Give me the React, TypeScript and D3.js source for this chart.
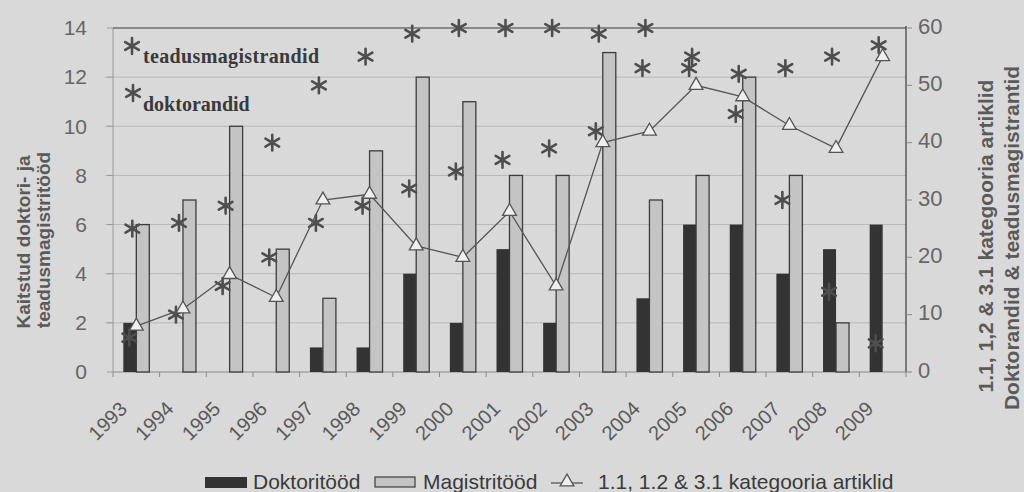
import React from 'react';
import * as d3 from 'd3';

// Kaitstud tööd ja publikatsioonid aastate kaupa
const years = ['1993', '1994', '1995', '1996', '1997', '1998', '1999', '2000', '2001', '2002', '2003', '2004', '2005', '2006', '2007', '2008', '2009'];
const doktoritood = [2, 0, 0, 0, 1, 1, 4, 2, 5, 2, 0, 3, 6, 6, 4, 5, 6];
const magistritood = [6, 7, 10, 5, 3, 9, 12, 11, 8, 8, 13, 7, 8, 12, 8, 2, 0];
const artiklid = [8, 11, 17, 13, 30, 31, 22, 20, 28, 15, 40, 42, 50, 48, 43, 39, 55];
const teadusmagistrandid = [25, 26, 29, 40, 50, 55, 59, 60, 60, 60, 59, 60, 55, 52, 53, 55, 57];
const doktorandid = [6, 10, 15, 20, 26, 29, 32, 35, 37, 39, 42, 53, 53, 45, 30, 14, 5];
const leftTicks = [0, 2, 4, 6, 8, 10, 12, 14];
const rightTicks = [0, 10, 20, 30, 40, 50, 60];

const W = 1024;
const H = 492;
const plot = { left: 113, right: 906, top: 28, bottom: 372 };

const SANS = "'Liberation Sans', Arial, sans-serif";
const SERIF = "'Liberation Serif', 'Times New Roman', serif";

const BG = '#d9d9d9';
const DARK = '#333333';
const LIGHT = '#c4c4c4';
const TEXT = '#5a5a5a';
const GRID = '#b8b8b8';

export default function App() {
  const x = d3.scaleBand<string>().domain(years).range([plot.left, plot.right]);
  const yL = d3.scaleLinear().domain([0, 14]).range([plot.bottom, plot.top]);
  const yR = d3.scaleLinear().domain([0, 60]).range([plot.bottom, plot.top]);
  const cx = (yr: string) => (x(yr) as number) + x.bandwidth() / 2;
  const barW = 13;

  const star = d3.symbol(d3.symbolAsterisk, 175)() as string;
  const tri = d3.symbol(d3.symbolTriangle, 82)() as string;
  const line = d3
    .line<number>()
    .x((_, i) => cx(years[i]))
    .y((d) => yR(d));

  const Star = ({ px, py }: { px: number; py: number }) => (
    <path d={star} transform={`translate(${px},${py})`} fill="none" stroke="#4e4e4e" strokeWidth={2.6} strokeLinecap="round" />
  );

  return (
    <svg width={W} height={H} style={{ position: 'absolute', left: 0, top: 0 }} fontFamily={SANS}>
      <rect x={0} y={0} width={W} height={H} fill={BG} />

      {/* horizontal gridlines on the left scale */}
      {leftTicks.filter((t) => t > 0 && t < 14).map((t) => (
        <line key={`g${t}`} x1={plot.left - 8} x2={plot.right} y1={yL(t)} y2={yL(t)} stroke={GRID} strokeWidth={1} />
      ))}

      {/* frame */}
      <line x1={plot.left} x2={plot.left} y1={plot.top} y2={plot.bottom} stroke="#9a9a9a" strokeWidth={1} />
      <line x1={plot.left} x2={plot.right} y1={plot.top} y2={plot.top} stroke="#3a3a3a" strokeWidth={1.2} />
      <line x1={plot.right} x2={plot.right} y1={plot.top - 2} y2={plot.bottom} stroke="#3a3a3a" strokeWidth={1.2} />
      <line x1={plot.left} x2={plot.right} y1={plot.bottom} y2={plot.bottom} stroke="#8a8a8a" strokeWidth={1} />

      {/* category ticks */}
      {years.concat(['end']).map((yr, i) => {
        const px = i < years.length ? (x(yr) as number) : plot.right;
        return <line key={`t${i}`} x1={px} x2={px} y1={plot.bottom} y2={plot.bottom + 5} stroke="#8a8a8a" strokeWidth={1} />;
      })}

      {/* left axis */}
      {leftTicks.map((t) => (
        <g key={`l${t}`}>
          <line x1={plot.left - 6} x2={plot.left} y1={yL(t)} y2={yL(t)} stroke="#9a9a9a" />
          <text x={87} y={yL(t)} dy="0.35em" textAnchor="end" fontSize={21} fill="#666">
            {t}
          </text>
        </g>
      ))}

      {/* right axis */}
      {rightTicks.map((t) => (
        <g key={`r${t}`}>
          <line x1={plot.right} x2={plot.right + 6} y1={yR(t)} y2={yR(t)} stroke="#8a8a8a" />
          <text x={918} y={yR(t) - 2} dy="0.35em" textAnchor="start" fontSize={22} fill="#666">
            {t}
          </text>
        </g>
      ))}

      {/* bars */}
      {years.map((yr, i) => (
        <g key={`b${yr}`}>
          {doktoritood[i] > 0 && (
            <rect x={cx(yr) - barW} y={yL(doktoritood[i])} width={barW} height={plot.bottom - yL(doktoritood[i])} fill={DARK} />
          )}
          {magistritood[i] > 0 && (
            <rect
              x={cx(yr)}
              y={yL(magistritood[i])}
              width={barW}
              height={plot.bottom - yL(magistritood[i])}
              fill={LIGHT}
              stroke="#3c3c3c"
              strokeWidth={1.3}
            />
          )}
        </g>
      ))}

      {/* asterisks: teadusmagistrandid and doktorandid */}
      {years.map((yr, i) => (
        <g key={`s${yr}`}>
          <Star px={cx(yr) - 4} py={yR(teadusmagistrandid[i])} />
          <Star px={cx(yr) - 7} py={yR(doktorandid[i])} />
        </g>
      ))}

      {/* article line */}
      <path d={line(artiklid) as string} fill="none" stroke="#555" strokeWidth={1.3} />
      {years.map((yr, i) => (
        <path key={`m${yr}`} d={tri} transform={`translate(${cx(yr)},${yR(artiklid[i])})`} fill="#efefef" stroke="#555" strokeWidth={1.3} />
      ))}

      {/* in-plot annotation */}
      <Star px={132} py={46} />
      <text x={143} y={63} fontFamily={SERIF} fontWeight="bold" fontSize={20} fill="#3a3a3a" textLength={176} lengthAdjust="spacing">
        teadusmagistrandid
      </text>
      <Star px={133} py={93} />
      <text x={143} y={111} fontFamily={SERIF} fontWeight="bold" fontSize={20} fill="#3a3a3a">
        doktorandid
      </text>

      {/* year labels */}
      {years.map((yr) => {
        const px = cx(yr) - 8;
        const py = 410;
        return (
          <text key={`x${yr}`} x={px} y={py} textAnchor="end" fontSize={20} fill={TEXT} transform={`rotate(-45,${px},${py})`}>
            {yr}
          </text>
        );
      })}

      {/* axis titles */}
      <g fontWeight="bold" fill={TEXT} fontSize={19}>
        <text x={0} y={0} textAnchor="middle" transform={`translate(30,242) rotate(-90)`}>
          Kaitstud doktori- ja
        </text>
        <text x={0} y={0} textAnchor="middle" transform={`translate(50,240) rotate(-90)`}>
          teadusmagistritööd
        </text>
      </g>
      <g fontWeight="bold" fill={TEXT} fontSize={21}>
        <text x={0} y={0} textAnchor="middle" transform={`translate(993,236) rotate(-90)`}>
          1.1, 1,2 &amp; 3.1 kategooria artiklid
        </text>
        <text x={0} y={0} textAnchor="middle" transform={`translate(1019,238) rotate(-90)`}>
          Doktorandid &amp; teadusmagistrantid
        </text>
      </g>

      {/* legend */}
      <g fontSize={21} fill="#3a3a3a">
        <rect x={205} y={477} width={42} height={11} fill={DARK} />
        <text x={253} y={489}>Doktoritööd</text>
        <rect x={375} y={477} width={40} height={10} fill={LIGHT} stroke="#3c3c3c" strokeWidth={1.2} />
        <text x={423} y={489}>Magistritööd</text>
        <line x1={551} x2={583} y1={483} y2={483} stroke="#555" strokeWidth={1.3} />
        <path d={tri} transform="translate(567,482)" fill="#efefef" stroke="#555" strokeWidth={1.3} />
        <text x={598} y={489}>1.1, 1.2 &amp; 3.1 kategooria artiklid</text>
      </g>
    </svg>
  );
}
